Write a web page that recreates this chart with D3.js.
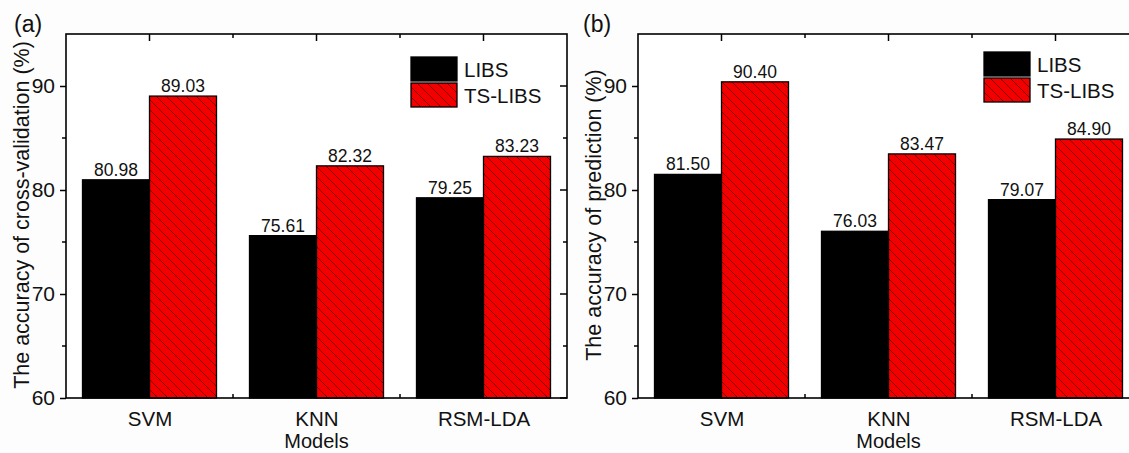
<!DOCTYPE html>
<html>
<head>
<meta charset="utf-8">
<script src="https://cdn.jsdelivr.net/npm/d3@7"></script>
<style>
  body { margin: 0; background: #fdfdfd; }
  svg { display: block; font-family: "Liberation Sans", Arial, sans-serif; }
</style>
</head>
<body>
<div id="chart"></div>
<script>
// donnees
const models = ['SVM', 'KNN', 'RSM-LDA'];
const series = ['LIBS', 'TS-LIBS'];
const cvLIBS = [80.98, 75.61, 79.25];
const cvTSLIBS = [89.03, 82.32, 83.23];
const predLIBS = [81.50, 76.03, 79.07];
const predTSLIBS = [90.40, 83.47, 84.90];
const yTicks = [60, 70, 80, 90];
const yMinorTicks = [65, 75, 85];

const W = 1129, H = 453;
const svg = d3.select('#chart').append('svg')
  .attr('width', W).attr('height', H);

// motif hachure pour TS-LIBS
const defs = svg.append('defs');
const pat = defs.append('pattern')
  .attr('id', 'hatch')
  .attr('patternUnits', 'userSpaceOnUse')
  .attr('width', 10).attr('height', 10);
pat.append('rect').attr('width', 10).attr('height', 10).attr('fill', '#f20000');
pat.append('path')
  .attr('d', 'M-2,-2 L12,12 M-2,8 L2,12 M8,-2 L12,2')
  .attr('stroke', '#6a0000').attr('stroke-width', 0.8);

function fillFor(i) { return i === 0 ? '#000' : 'url(#hatch)'; }

// dessine un panneau
function panneau(opts) {
  const left = opts.left, top = 34, width = 501, bottom = 398;
  const g = svg.append('g');

  const x = d3.scalePoint().domain(models).range([left, left + width]).padding(0.5);
  const y = d3.scaleLinear().domain([60, 95]).range([bottom, top]);
  const barW = 67;
  const step = x.step();

  g.append('rect')
    .attr('x', left).attr('y', top)
    .attr('width', width).attr('height', bottom - top)
    .attr('fill', '#fff');

  const donnees = [opts.libs, opts.ts];
  donnees.forEach((vals, s) => {
    g.selectAll('.bar' + s)
      .data(models)
      .enter()
      .append('rect')
      .attr('x', d => x(d) + (s === 0 ? -barW : 0))
      .attr('y', (d, i) => y(vals[i]))
      .attr('width', barW)
      .attr('height', (d, i) => bottom - y(vals[i]))
      .attr('fill', fillFor(s))
      .attr('stroke', '#000')
      .attr('stroke-width', 1.3);

    g.selectAll('.lab' + s)
      .data(models)
      .enter()
      .append('text')
      .attr('x', d => x(d) + (s === 0 ? -barW / 2 : barW / 2))
      .attr('y', (d, i) => y(vals[i]) - 4)
      .attr('text-anchor', 'middle')
      .attr('font-size', 17.5)
      .attr('fill', '#111')
      .text((d, i) => vals[i].toFixed(2));
  });

  // axe gauche
  const axeG = g.append('g').attr('transform', 'translate(' + left + ',0)');
  axeG.call(d3.axisLeft(y).tickValues(yTicks).tickSize(6).tickPadding(5).tickFormat(d3.format('d')));
  axeG.select('.domain').remove();
  axeG.selectAll('text').attr('font-size', 21).attr('fill', '#111');
  axeG.selectAll('line').attr('stroke-width', 1.5);
  axeG.selectAll('.minor').data(yMinorTicks).enter().append('line')
    .attr('x1', -4).attr('x2', 0).attr('y1', d => y(d)).attr('y2', d => y(d))
    .attr('stroke', '#000').attr('stroke-width', 1.5);

  // axe droit, ticks vers l'interieur
  const axeD = g.append('g').attr('transform', 'translate(' + (left + width) + ',0)');
  axeD.selectAll('.maj').data(yTicks).enter().append('line')
    .attr('x1', -7).attr('x2', 0).attr('y1', d => y(d)).attr('y2', d => y(d))
    .attr('stroke', '#000').attr('stroke-width', 1.5);
  axeD.selectAll('.min').data(yMinorTicks).enter().append('line')
    .attr('x1', -4).attr('x2', 0).attr('y1', d => y(d)).attr('y2', d => y(d))
    .attr('stroke', '#000').attr('stroke-width', 1.5);

  // ticks haut et bas
  const mids = models.slice(1).map(d => x(d) - step / 2);
  g.selectAll('.tmaj').data(models).enter().append('line')
    .attr('x1', d => x(d)).attr('x2', d => x(d)).attr('y1', top).attr('y2', top + 7)
    .attr('stroke', '#000').attr('stroke-width', 1.5);
  g.selectAll('.tmin').data(mids).enter().append('line')
    .attr('x1', d => d).attr('x2', d => d).attr('y1', top).attr('y2', top + 4)
    .attr('stroke', '#000').attr('stroke-width', 1.5);
  g.selectAll('.bmin').data(mids).enter().append('line')
    .attr('x1', d => d).attr('x2', d => d).attr('y1', bottom).attr('y2', bottom - 4)
    .attr('stroke', '#000').attr('stroke-width', 1.5);

  // cadre
  g.append('rect')
    .attr('x', left).attr('y', top)
    .attr('width', width).attr('height', bottom - top)
    .attr('fill', 'none').attr('stroke', '#000').attr('stroke-width', 1.6);

  // etiquettes categories
  const axeX = g.append('g').attr('transform', 'translate(0,' + bottom + ')');
  axeX.call(d3.axisBottom(x).tickSize(0).tickPadding(13));
  axeX.select('.domain').remove();
  axeX.selectAll('text').attr('font-size', 20.5).attr('fill', '#111');

  g.append('text')
    .attr('x', left + width / 2).attr('y', 448)
    .attr('text-anchor', 'middle').attr('font-size', 20).attr('fill', '#111')
    .text('Models');

  g.append('text')
    .attr('transform', 'translate(' + (left - 37) + ',215) rotate(-90)')
    .attr('text-anchor', 'middle').attr('font-size', 21.5).attr('fill', '#111')
    .text(opts.yLabel);

  g.append('text')
    .attr('x', opts.tagX).attr('y', 32)
    .attr('font-size', 23).attr('fill', '#111')
    .text(opts.tag);

  // legende
  const leg = g.append('g').attr('transform', 'translate(' + opts.legX + ',' + opts.legY + ')');
  series.forEach((s, i) => {
    leg.append('rect')
      .attr('x', 0).attr('y', i * 26)
      .attr('width', 46).attr('height', 24)
      .attr('fill', fillFor(i))
      .attr('stroke', '#000').attr('stroke-width', 1.3);
    leg.append('text')
      .attr('x', 53).attr('y', i * 26 + 20)
      .attr('font-size', 20.5).attr('fill', '#111')
      .text(s);
  });
}

panneau({ left: 66, libs: cvLIBS, ts: cvTSLIBS,
  yLabel: 'The accuracy of cross-validation (%)', tag: '(a)', tagX: 14,
  legX: 411, legY: 57 });
panneau({ left: 638, libs: predLIBS, ts: predTSLIBS,
  yLabel: 'The accuracy of prediction (%)', tag: '(b)', tagX: 583,
  legX: 984, legY: 52 });
</script>
</body>
</html>
